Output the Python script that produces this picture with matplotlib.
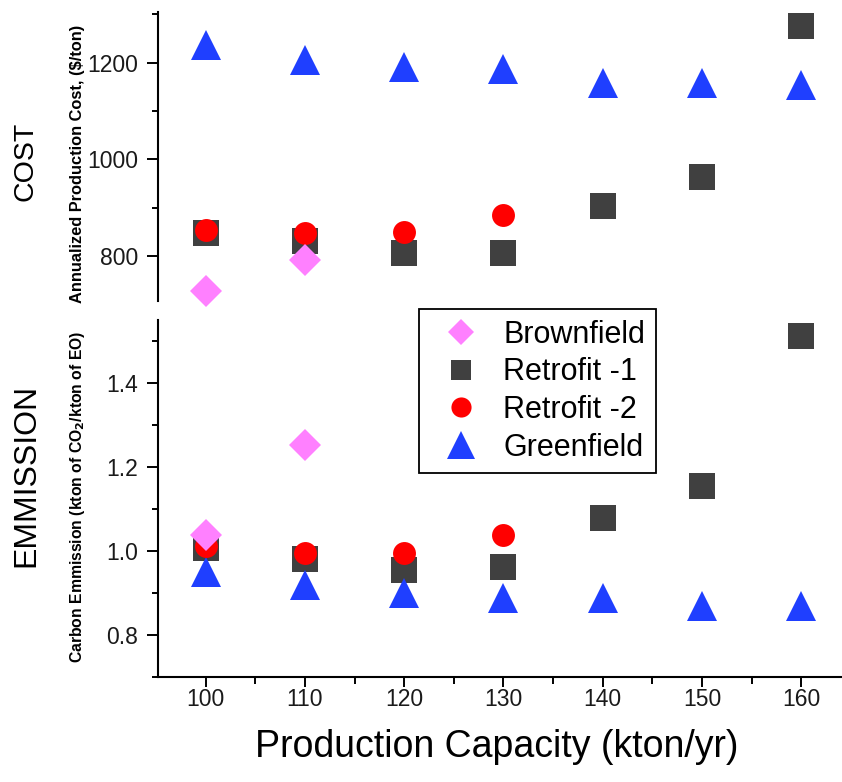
import matplotlib
matplotlib.use("Agg")
import matplotlib.pyplot as plt
from matplotlib.ticker import MultipleLocator
from matplotlib.lines import Line2D

plt.rcParams['font.family'] = ['Liberation Sans', 'DejaVu Sans']

# --- dados ---
capacidade = [100, 110, 120, 130, 140, 150, 160]
cap_brown = [100, 110]
cap_retro2 = [100, 110, 120, 130]

custo_brown = [728, 792]
custo_retro1 = [847, 831, 806, 806, 904, 963, 1275]
custo_retro2 = [854, 847, 849, 885]
custo_green = [1237, 1206, 1192, 1187, 1158, 1158, 1153]

emis_brown = [1.037, 1.252]
emis_retro1 = [1.006, 0.980, 0.954, 0.962, 1.077, 1.154, 1.512]
emis_retro2 = [1.012, 0.994, 0.994, 1.037]
emis_green = [0.948, 0.917, 0.899, 0.888, 0.887, 0.868, 0.868]

nomes = ['Brownfield', 'Retrofit -1', 'Retrofit -2', 'Greenfield']

# estilo de cada serie: (cor, marcador, tamanho no grafico, tamanho na legenda, zorder)
ESTILOS = {
    'Brownfield': ('#ff80ff', 'D', 16.5, 13, 5),
    'Retrofit -1': ('#404040', 's', 18.5, 14.5, 2),
    'Retrofit -2': ('#ff0000', 'o', 16.5, 14.5, 4),
    'Greenfield': ('#1f3fff', '^', 22, 19.5, 3),
}

W, H = 842, 782
fig = plt.figure(figsize=(W / 100, H / 100), dpi=100)

esq = 158 / W
ax1 = fig.add_axes([esq, 1 - 301 / H, 1 - esq, (301 - 12) / H])
ax2 = fig.add_axes([esq, 1 - 677 / H, 1 - esq, (677 - 320) / H])


def pontos(ax, x, y, nome):
    cor, mk, ms, _, z = ESTILOS[nome]
    ax.plot(x, y, linestyle='none', marker=mk, markersize=ms, color=cor,
            markeredgewidth=0, zorder=z, clip_on=False)


pontos(ax1, cap_brown, custo_brown, 'Brownfield')
pontos(ax1, capacidade, custo_retro1, 'Retrofit -1')
pontos(ax1, cap_retro2, custo_retro2, 'Retrofit -2')
pontos(ax1, capacidade, custo_green, 'Greenfield')

pontos(ax2, cap_brown, emis_brown, 'Brownfield')
pontos(ax2, capacidade, emis_retro1, 'Retrofit -1')
pontos(ax2, cap_retro2, emis_retro2, 'Retrofit -2')
pontos(ax2, capacidade, emis_green, 'Greenfield')

# --- eixos ---
for ax in (ax1, ax2):
    ax.set_xlim(95.2, 164.1)
    ax.spines['top'].set_visible(False)
    ax.spines['right'].set_visible(False)
    ax.spines['left'].set_linewidth(1.5)
    ax.spines['bottom'].set_linewidth(1.5)
    ax.tick_params(axis='y', which='major', direction='out', length=8,
                   width=1.4, pad=6.5, labelsize=16.5, labelcolor='#1a1a1a')
    ax.tick_params(axis='y', which='minor', direction='out', length=4,
                   width=1.4)
    ax.xaxis.set_major_locator(MultipleLocator(10))
    ax.xaxis.set_minor_locator(MultipleLocator(5))

ax1.set_ylim(707, 1305)
ax1.yaxis.set_major_locator(MultipleLocator(200))
ax1.yaxis.set_minor_locator(MultipleLocator(100))
ax1.spines['bottom'].set_visible(False)
ax1.tick_params(axis='x', which='both', bottom=False, labelbottom=False)

ax2.set_ylim(0.699, 1.549)
ax2.yaxis.set_major_locator(MultipleLocator(0.2))
ax2.yaxis.set_minor_locator(MultipleLocator(0.1))
ax2.yaxis.set_major_formatter(plt.FormatStrFormatter('%.1f'))
ax2.tick_params(axis='x', which='major', direction='out', length=7,
                width=1.4, pad=1, labelsize=16.5, labelcolor='#1a1a1a')
ax2.tick_params(axis='x', which='minor', direction='out', length=4.7,
                width=1.4)

# --- rotulos ---
fig.text(26 / W, 1 - 161 / H, 'COST', rotation=90, ha='center', va='center',
         fontsize=20.5)
fig.text(26 / W, 1 - 475 / H, 'EMMISSION', rotation=90, ha='center',
         va='center', fontsize=23)
fig.text(78 / W, 1 - 164 / H, 'Annualized Production Cost, ($/ton)',
         rotation=90, ha='center', va='center', fontsize=11.8,
         fontweight='bold')
fig.text(78 / W, 1 - 497 / H,
         r'Carbon Emmission (kton of CO$_\mathbf{2}$/kton of EO)',
         rotation=90, ha='center', va='center', fontsize=11.3,
         fontweight='bold')
fig.text(497 / W, 1 - 747 / H, 'Production Capacity (kton/yr)',
         ha='center', va='center', fontsize=27)

# --- legenda ---
handles = []
for nome in nomes:
    cor, mk, _, ms_leg, z = ESTILOS[nome]
    handles.append(Line2D([0], [0], linestyle='none', marker=mk,
                          markersize=ms_leg, color=cor,
                          markeredgewidth=0, label=nome))
leg = fig.legend(handles=handles, loc='upper left',
                 bbox_to_anchor=(419 / W, 1 - 309 / H),
                 bbox_transform=fig.transFigure, borderaxespad=0,
                 frameon=True, fancybox=False, shadow=False,
                 fontsize=22, borderpad=0.35, labelspacing=0.25,
                 handlelength=2.05, handletextpad=0.35)
leg.get_frame().set_edgecolor('black')
leg.get_frame().set_linewidth(1.3)
leg.get_frame().set_alpha(1)
leg.set_zorder(10)

fig.savefig('out.png', dpi=100)
plt.close(fig)
